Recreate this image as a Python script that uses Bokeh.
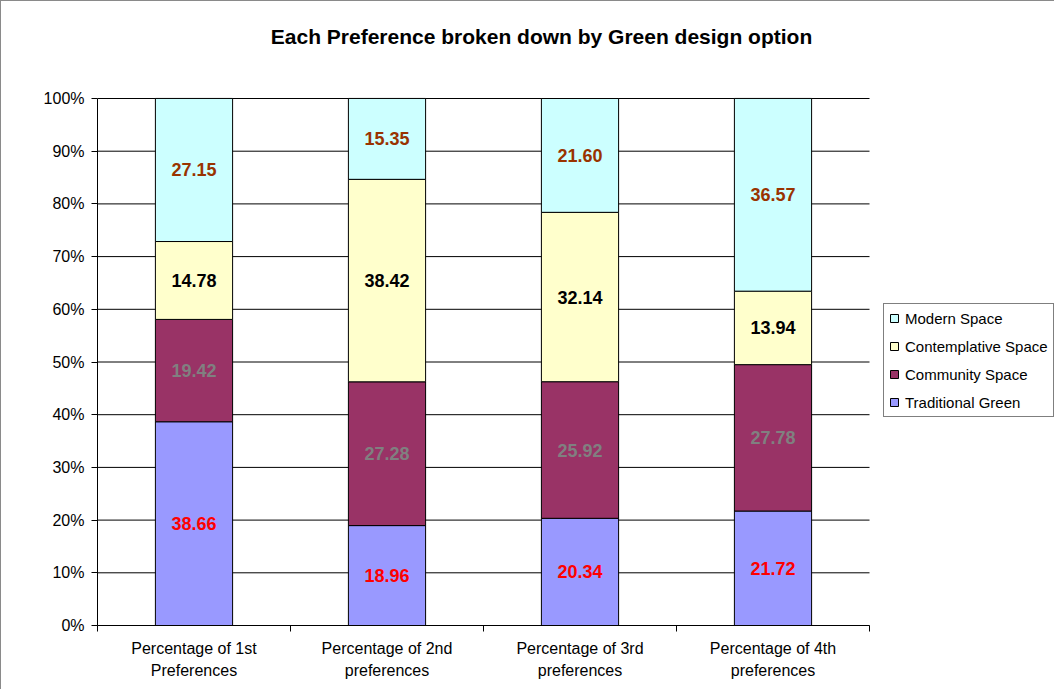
from bokeh.plotting import figure
from bokeh.models import (ColumnDataSource, Range1d, FixedTicker, NumeralTickFormatter,
                          Legend, LegendItem, Label)
from bokeh.core.properties import value
from bokeh.embed import file_html
from bokeh.resources import INLINE

# ---- data ----
title_text = "Each Preference broken down by Green design option"
categories = ["Percentage of 1st\nPreferences", "Percentage of 2nd\npreferences",
              "Percentage of 3rd\npreferences", "Percentage of 4th\npreferences"]
series_names = ["Traditional Green", "Community Space", "Contemplative Space", "Modern Space"]
traditional = [38.66, 18.96, 20.34, 21.72]
community = [19.42, 27.28, 25.92, 27.78]
contemplative = [14.78, 38.42, 32.14, 13.94]
modern = [27.15, 15.35, 21.60, 36.57]
y_ticks = [0, 10, 20, 30, 40, 50, 60, 70, 80, 90, 100]

fill_colors = ["#9999FF", "#993366", "#FFFFCC", "#CCFFFF"]
label_colors = ["#FF0000", "#808080", "#000000", "#993300"]
FONT = "Liberation Sans"

series = [traditional, community, contemplative, modern]
keys = ["trad", "comm", "cont", "mod"]
n_cat = len(categories)
xs = [i + 0.5 for i in range(n_cat)]
data = {"x": xs}
for k, s in zip(keys, series):
    data[k] = [v / 100.0 for v in s]
src = ColumnDataSource(data)

# layout: plot box 96..868 px wide, 97..624 px high; frame extended right/up
W, H = 1054, 689
left, right_px, top_px, bottom = 96, 868, 97, 65
frame_h = H - bottom
cat_px = (right_px - left) / n_cat
x_max = (W - left) / cat_px
y_max = frame_h / (frame_h - top_px)

p = figure(width=W, height=H, output_backend="svg", toolbar_location=None,
           x_range=Range1d(0, x_max), y_range=Range1d(0, y_max),
           min_border_left=left, min_border_right=0, min_border_top=0, min_border_bottom=bottom)
p.title_location = None
p.background_fill_color = "white"
p.border_fill_color = "white"
p.outline_line_color = None
p.styles = {"border-left": "1px solid #8a8a8a", "border-top": "1px solid #8a8a8a"}

# gridlines (only across the plot box)
gy = [t / 100 for t in y_ticks]
p.segment(x0=[0] * len(gy), x1=[n_cat] * len(gy), y0=gy, y1=gy,
          line_color="black", line_width=1)

# bars
renderers = p.vbar_stack(keys, x="x", width=0.4, source=src,
                         fill_color=fill_colors, line_color="black", line_width=1)

# value labels at segment centres
bottoms = [0.0] * n_cat
lx, ly, lt, lc = [], [], [], []
for s, col in zip(series, label_colors):
    for i, v in enumerate(s):
        lx.append(xs[i])
        ly.append(bottoms[i] + v / 200.0)
        lt.append(f"{v:.2f}")
        lc.append(col)
        bottoms[i] += v / 100.0
lsrc = ColumnDataSource(dict(x=lx, y=ly, t=lt, c=lc))
p.text(x="x", y="y", text="t", text_color="c", source=lsrc,
       text_font=value(FONT), text_font_style="bold", text_font_size="18px",
       text_align="center", text_baseline="middle")

# title
title_x = (540 - left) / cat_px
title_y = (frame_h - 35) / (frame_h - top_px)
p.add_layout(Label(x=title_x, y=title_y, text=title_text, text_align="center",
                   text_baseline="middle", text_font=FONT, text_font_style="bold",
                   text_font_size="21px", text_color="black"))

# y axis
p.yaxis.bounds = (0, 1)
p.yaxis.ticker = FixedTicker(ticks=gy)
p.yaxis.formatter = NumeralTickFormatter(format="0%")
p.yaxis.major_tick_in = 0
p.yaxis.major_tick_out = 6
p.yaxis.minor_tick_line_color = None
p.yaxis.major_label_standoff = 7
p.yaxis.major_label_text_font = FONT
p.yaxis.major_label_text_font_size = "16px"
p.yaxis.major_label_text_color = "black"
p.yaxis.axis_line_color = "black"
p.yaxis.major_tick_line_color = "black"

# x axis
p.xaxis.bounds = (0, n_cat)
p.xaxis.ticker = FixedTicker(ticks=xs, minor_ticks=list(range(n_cat + 1)))
p.xaxis.major_label_overrides = {x: c for x, c in zip(xs, categories)}
p.xaxis.major_tick_in = 0
p.xaxis.major_tick_out = 0
p.xaxis.minor_tick_in = 0
p.xaxis.minor_tick_out = 6
p.xaxis.minor_tick_line_color = "black"
p.xaxis.major_label_standoff = 8
p.xaxis.major_label_text_font = FONT
p.xaxis.major_label_text_font_size = "16px"
p.xaxis.major_label_text_color = "black"
p.xaxis.major_label_text_line_height = 1.33
p.xaxis.axis_line_color = "black"

p.xgrid.grid_line_color = None
p.ygrid.grid_line_color = None

# legend
items = [LegendItem(label=n, renderers=[r]) for n, r in zip(series_names, renderers)][::-1]
legend = Legend(items=items, location=(882 - left, frame_h - 416))
legend.margin = 0
legend.padding = 5
legend.spacing = 10
legend.label_height = 18
legend.glyph_height = 10
legend.glyph_width = 10
legend.label_standoff = 6
legend.label_text_font = FONT
legend.label_text_font_size = "15px"
legend.label_text_color = "black"
legend.border_line_color = "black"
legend.border_line_width = 1
legend.background_fill_color = "white"
legend.background_fill_alpha = 1
p.add_layout(legend)

open("out.html", "w").write(file_html(p, INLINE))
